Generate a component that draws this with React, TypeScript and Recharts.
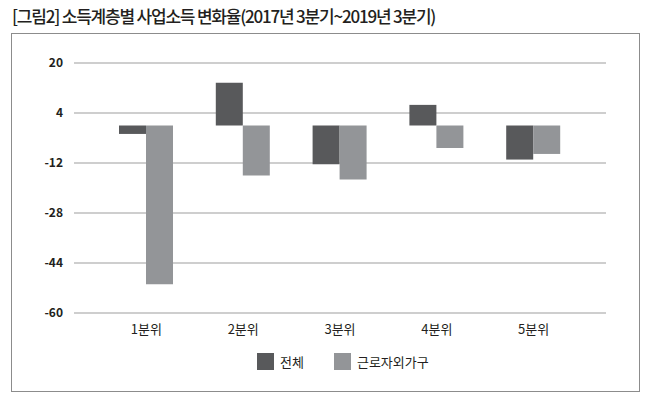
import { BarChart, Bar, XAxis, YAxis, CartesianGrid } from "recharts";

const quintiles = ["1분위", "2분위", "3분위", "4분위", "5분위"];
const total = [-2.7, 13.7, -12.4, 6.6, -10.9];
const nonWorker = [-50.8, -16, -17.3, -7.2, -9.1];
const yTicks = [-60, -44, -28, -12, 4, 20];

const seriesNames = { total: "전체", nonWorker: "근로자외가구" };
const colors = { total: "#58595b", nonWorker: "#939598" };

const data = quintiles.map((q, i) => ({
  name: q,
  total: total[i],
  nonWorker: nonWorker[i],
}));

const font = "'Noto Sans CJK KR', 'Noto Sans', sans-serif";

export default function App() {
  return (
    <div
      style={{
        position: "fixed",
        left: 0,
        top: 0,
        width: 650,
        height: 401,
        background: "#fff",
        fontFamily: font,
        overflow: "hidden",
      }}
    >
      <div
        style={{
          position: "absolute",
          left: 12,
          top: 3,
          fontSize: 17,
          fontWeight: 500,
          color: "#231f20",
          whiteSpace: "nowrap",
          letterSpacing: -1.2,
        }}
      >
        [그림2] 소득계층별 사업소득 변화율(2017년 3분기~2019년 3분기)
      </div>
      <div
        style={{
          position: "absolute",
          left: 11,
          top: 33,
          width: 627,
          height: 357,
          border: "1.5px solid #8c8c8c",
        }}
      />
      <div style={{ position: "absolute", left: 0, top: 0 }}>
        <BarChart
          width={650}
          height={401}
          data={data}
          barGap={0}
          barSize={27}
          margin={{ top: 63, right: 44, bottom: 58, left: 8 }}
        >
          <CartesianGrid vertical={false} stroke="#9d9d9d" strokeWidth={1.2} />
          <XAxis
            dataKey="name"
            axisLine={false}
            tickLine={false}
            tickSize={0}
            tickMargin={12}
            height={30}
            padding={{ left: 24, right: 24 }}
            tick={{ fill: "#231f20", fontSize: 13, fontFamily: font }}
          />
          <YAxis
            domain={[-60, 20]}
            ticks={yTicks}
            interval={0}
            width={66}
            axisLine={false}
            tickLine={false}
            tickSize={0}
            tickMargin={11}
            tick={{ fill: "#231f20", fontSize: 12, fontWeight: 700, fontFamily: font }}
          />
          <Bar dataKey="total" fill={colors.total} isAnimationActive={false} />
          <Bar dataKey="nonWorker" fill={colors.nonWorker} isAnimationActive={false} />
        </BarChart>
      </div>
      <div
        style={{
          position: "absolute",
          left: 257,
          top: 352,
          display: "flex",
          alignItems: "center",
          fontSize: 13,
          color: "#231f20",
        }}
      >
        <span style={{ width: 17, height: 17, background: colors.total, marginRight: 6 }} />
        <span style={{ marginRight: 30 }}>{seriesNames.total}</span>
        <span style={{ width: 17, height: 17, background: colors.nonWorker, marginRight: 6 }} />
        <span>{seriesNames.nonWorker}</span>
      </div>
    </div>
  );
}
